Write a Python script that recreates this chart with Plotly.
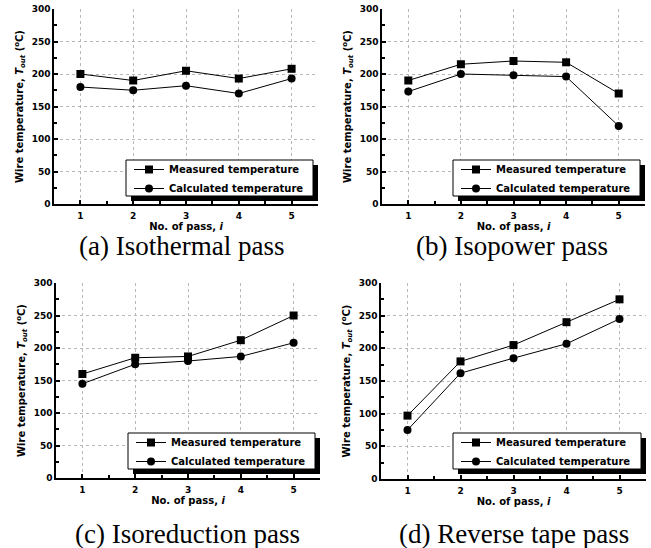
import plotly.graph_objects as go

passes = [1, 2, 3, 4, 5]
measured_a = [200, 190, 205, 193, 208]
calculated_a = [180, 175, 182, 170, 193]
measured_b = [190, 215, 220, 218, 170]
calculated_b = [173, 200, 198, 196, 120]
measured_c = [160, 185, 187, 212, 250]
calculated_c = [145, 175, 180, 187, 208]
measured_d = [97, 180, 205, 240, 275]
calculated_d = [75, 162, 185, 207, 245]
captions = ["(a) Isothermal pass", "(b) Isopower pass", "(c) Isoreduction pass", "(d) Reverse tape pass"]
y_ticks = [0, 50, 100, 150, 200, 250, 300]

W, H = 651, 548
def px(x):
    return x / W
def py(y):
    return 1 - y / H

# panel geometry in pixels: (left, right, top, bottom)
panels = [
    (54, 318, 9, 204),
    (382, 645, 9, 204),
    (56, 320, 283, 478),
    (381, 646, 283, 479),
]
legend_boxes = [
    (126, 313, 160, 196),
    (453, 640, 160, 196),
    (128, 315, 433, 469),
    (453, 641, 433, 469),
]
caption_pos = [(182, 246), (512, 246), (187, 534), (514, 534)]

data = [(measured_a, calculated_a), (measured_b, calculated_b),
        (measured_c, calculated_c), (measured_d, calculated_d)]

FONT = "DejaVu Sans"
fig = go.Figure()
shapes = []
annotations = []
layout = {}
for i, ((m, c), (l, r, t, b), (bl, br, bt, bb), (cx, cy), cap) in enumerate(
        zip(data, panels, legend_boxes, caption_pos, captions)):
    n = "" if i == 0 else str(i + 1)
    leg = "legend" if i == 0 else f"legend{i+1}"
    fig.add_trace(go.Scatter(x=passes, y=m, mode="lines+markers", name="Measured temperature",
                             xaxis="x" + n, yaxis="y" + n, legend=leg,
                             line=dict(color="black", width=1),
                             marker=dict(symbol="square", size=8, color="black")))
    fig.add_trace(go.Scatter(x=passes, y=c, mode="lines+markers", name="Calculated temperature",
                             xaxis="x" + n, yaxis="y" + n, legend=leg,
                             line=dict(color="black", width=1),
                             marker=dict(symbol="circle", size=8, color="black")))
    layout["xaxis" + n] = dict(
        domain=[px(l), px(r)], anchor="y" + n, range=[0.5, 5.5], automargin=False,
        tickvals=passes, ticks="inside", ticklen=4, tickwidth=1.5, tickcolor="black",
        showline=True, linecolor="black", linewidth=1.5, mirror=False,
        showgrid=True, gridcolor="#b8b8b8", griddash="dot", gridwidth=1,
        zeroline=False, ticklabelstandoff=2,
        minor=dict(ticks="inside", dtick=0.5, tick0=0.5, ticklen=3, tickcolor="black", showgrid=False),
        tickfont=dict(family=FONT, size=9, color="black", weight="bold"),
        title=dict(text="No. of pass, <i>i</i>", standoff=3,
                   font=dict(family=FONT, size=10, color="black", weight="bold")),
    )
    layout["yaxis" + n] = dict(
        domain=[py(b), py(t)], anchor="x" + n, range=[0, 300], automargin=False,
        tickvals=y_ticks, ticks="inside", ticklen=4, tickwidth=1.5, tickcolor="black",
        showline=True, linecolor="black", linewidth=1.5,
        showgrid=True, gridcolor="#b8b8b8", griddash="dot", gridwidth=1,
        zeroline=False,
        minor=dict(ticks="inside", dtick=25, ticklen=3, tickcolor="black", showgrid=False),
        tickfont=dict(family=FONT, size=9, color="black", weight="bold"),
        title=dict(text="Wire temperature, <i>T</i><sub><i>out</i></sub> (<sup>o</sup>C)", standoff=6,
                   font=dict(family=FONT, size=10, color="black", weight="bold")),
    )
    # legend box with drop shadow
    shapes.append(dict(type="rect", xref="paper", yref="paper", layer="above",
                       x0=px(bl + 5), x1=px(br + 5), y0=py(bb + 5), y1=py(bt + 5),
                       fillcolor="black", line=dict(width=0)))
    shapes.append(dict(type="rect", xref="paper", yref="paper", layer="above",
                       x0=px(bl), x1=px(br), y0=py(bb), y1=py(bt),
                       fillcolor="white", line=dict(color="black", width=1)))
    layout[leg] = dict(x=px(bl + 3), y=py(bt - 5), xanchor="left", yanchor="top",
                       bgcolor="rgba(0,0,0,0)", borderwidth=0, itemwidth=30,
                       tracegroupgap=0,
                       font=dict(family=FONT, size=10, color="black", weight="bold"))
    annotations.append(dict(text=cap, x=px(cx), y=py(cy), xref="paper", yref="paper",
                            showarrow=False, xanchor="center", yanchor="middle",
                            font=dict(family="Liberation Serif", size=27, color="black")))

fig.update_layout(**layout)
fig.update_layout(width=W, height=H, margin=dict(l=0, r=0, t=0, b=0, autoexpand=False),
                  paper_bgcolor="white", plot_bgcolor="white",
                  shapes=shapes, annotations=annotations, showlegend=True)
fig.write_html("out.html", config={"displayModeBar": False},
               post_script="document.body.style.margin='0';")
